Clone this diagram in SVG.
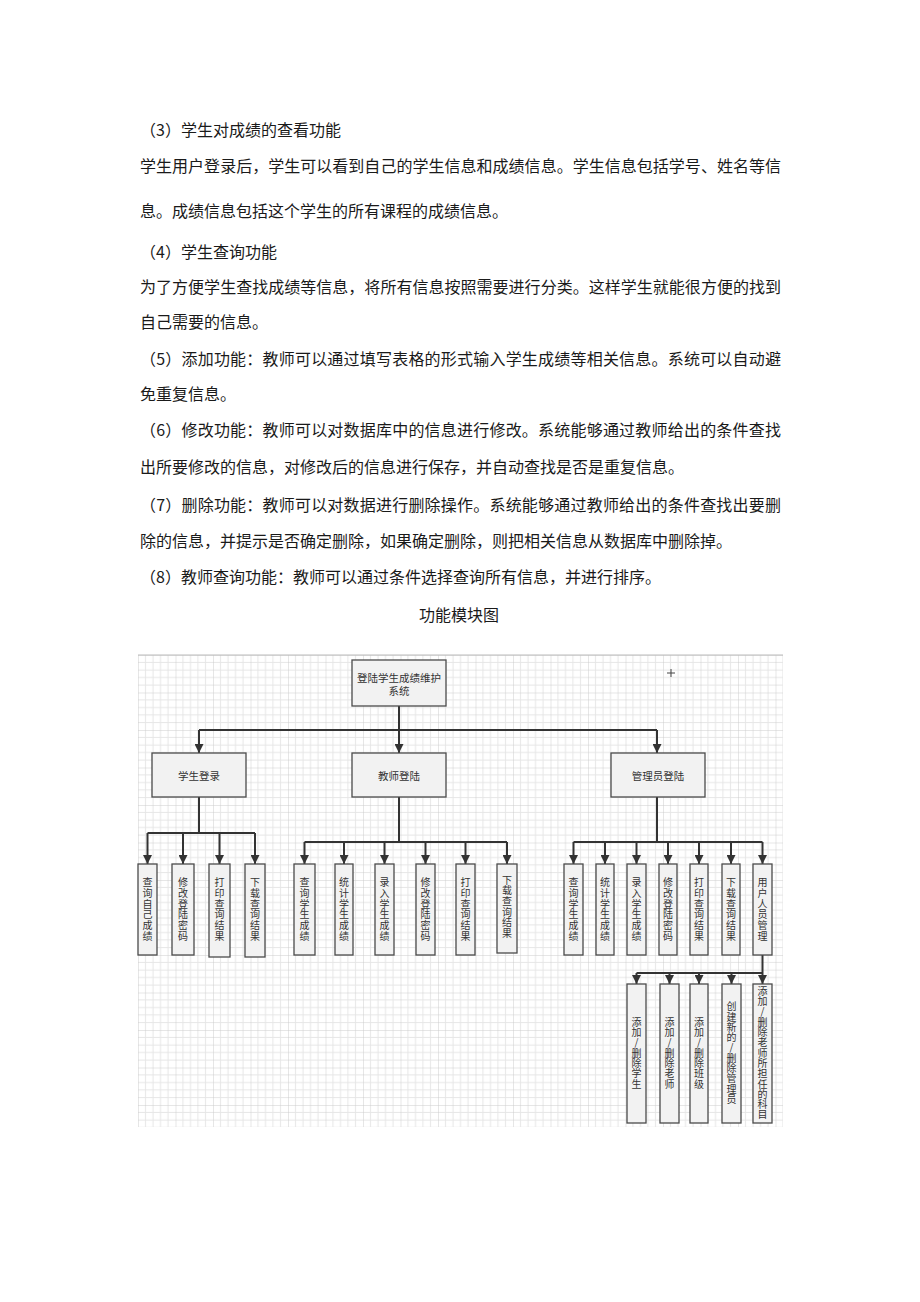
<svg xmlns="http://www.w3.org/2000/svg" width="920" height="1302" viewBox="0 0 920 1302">
<style>
.p{font-family:"Noto Sans CJK SC","Noto Sans",sans-serif;font-size:16px;fill:#1a1a1a}
.n{font-family:"Noto Sans CJK SC","Noto Sans",sans-serif;font-size:10.5px;fill:#333;text-anchor:middle;dominant-baseline:central}
.v{font-family:"Noto Sans CJK SC","Noto Sans",sans-serif;font-size:10px;fill:#333;text-anchor:middle;writing-mode:vertical-rl;text-orientation:upright;letter-spacing:0.7px}
.w{font-family:"Noto Sans CJK SC","Noto Sans",sans-serif;font-size:10px;fill:#333;text-anchor:middle;writing-mode:vertical-rl;text-orientation:upright;letter-spacing:0.3px}
.box{fill:#f2f2f2;stroke:#4a4a4a;stroke-width:1.3}
.c{fill:none;stroke:#333;stroke-width:2}
.ca{fill:none;stroke:#333;stroke-width:2;marker-end:url(#arr)}
</style>
<defs>
<marker id="arr" viewBox="0 0 10 10" refX="10" refY="5" markerUnits="userSpaceOnUse" markerWidth="9" markerHeight="9" orient="auto">
<path d="M0,0L10,5L0,10z" fill="#333"/>
</marker>
<pattern id="grid" x="138" y="655" width="37.5" height="37.5" patternUnits="userSpaceOnUse">
<path d="M7.5 0V37.5M15 0V37.5M22.5 0V37.5M30 0V37.5M0 7.5H37.5M0 15H37.5M0 22.5H37.5M0 30H37.5" stroke="#e6e6e6" stroke-width="1"/>
<path d="M0 0V37.5M0 0H37.5" stroke="#cdcdcd" stroke-width="1"/>
</pattern>
</defs>
<rect width="920" height="1302" fill="#fff"/>

<g id="text">
<text class="p" x="140" y="136">（3）学生对成绩的查看功能</text>
<text class="p" x="140" y="172" textLength="641" lengthAdjust="spacing">学生用户登录后，学生可以看到自己的学生信息和成绩信息。学生信息包括学号、姓名等信</text>
<text class="p" x="140" y="217">息。成绩信息包括这个学生的所有课程的成绩信息。</text>
<text class="p" x="140" y="258">（4）学生查询功能</text>
<text class="p" x="140" y="293" textLength="641" lengthAdjust="spacing">为了方便学生查找成绩等信息，将所有信息按照需要进行分类。这样学生就能很方便的找到</text>
<text class="p" x="140" y="328">自己需要的信息。</text>
<text class="p" x="140" y="365" textLength="641" lengthAdjust="spacing">（5）添加功能：教师可以通过填写表格的形式输入学生成绩等相关信息。系统可以自动避</text>
<text class="p" x="140" y="400">免重复信息。</text>
<text class="p" x="140" y="436" textLength="641" lengthAdjust="spacing">（6）修改功能：教师可以对数据库中的信息进行修改。系统能够通过教师给出的条件查找</text>
<text class="p" x="140" y="473">出所要修改的信息，对修改后的信息进行保存，并自动查找是否是重复信息。</text>
<text class="p" x="140" y="511" textLength="641" lengthAdjust="spacing">（7）删除功能：教师可以对数据进行删除操作。系统能够通过教师给出的条件查找出要删</text>
<text class="p" x="140" y="547">除的信息，并提示是否确定删除，如果确定删除，则把相关信息从数据库中删除掉。</text>
<text class="p" x="140" y="583">（8）教师查询功能：教师可以通过条件选择查询所有信息，并进行排序。</text>
<text class="p" x="459" y="621" text-anchor="middle">功能模块图</text>
</g>

<g id="canvas">
<rect x="138" y="655" width="645" height="472" fill="url(#grid)"/>
<path d="M138 655H783" stroke="#bbb" stroke-width="1"/>
<path d="M667 673H675M671 669V677" stroke="#444" stroke-width="1"/>
</g>

<g id="connectors">
<path class="ca" d="M399 706V753"/>
<path class="c" d="M199 730H657"/>
<path class="ca" d="M199 730V753"/>
<path class="ca" d="M657 730V753"/>

<path class="c" d="M199 797V833M147.5 833H255"/>
<path class="ca" d="M147.5 833V864"/>
<path class="ca" d="M183 833V864"/>
<path class="ca" d="M219.5 833V864"/>
<path class="ca" d="M255 833V864"/>

<path class="c" d="M399 797V842M304.5 842H507"/>
<path class="ca" d="M304.5 842V864"/>
<path class="ca" d="M344 842V864"/>
<path class="ca" d="M384.5 842V864"/>
<path class="ca" d="M425.5 842V864"/>
<path class="ca" d="M465.5 842V864"/>
<path class="ca" d="M507 842V864"/>

<path class="c" d="M657 797V842M573.5 842H762.5"/>
<path class="ca" d="M573.5 842V864"/>
<path class="ca" d="M605 842V864"/>
<path class="ca" d="M636.5 842V864"/>
<path class="ca" d="M668 842V864"/>
<path class="ca" d="M699 842V864"/>
<path class="ca" d="M731 842V864"/>
<path class="ca" d="M762.5 842V864"/>

<path class="c" d="M762.5 955V973M636.5 973H762.5"/>
<path class="ca" d="M636.5 973V984"/>
<path class="ca" d="M669.5 973V984"/>
<path class="ca" d="M699 973V984"/>
<path class="ca" d="M731.5 973V984"/>
<path class="ca" d="M762.5 973V984"/>
</g>

<g id="root">
<rect class="box" x="352" y="660" width="94" height="46"/>
<text class="n" x="399" y="677">登陆学生成绩维护</text>
<text class="n" x="399" y="690">系统</text>
</g>

<g id="student">
<rect class="box" x="152" y="753" width="94" height="44"/>
<text class="n" x="199" y="775">学生登录</text>
</g>
<g id="teacher">
<rect class="box" x="352" y="753" width="94" height="44"/>
<text class="n" x="399" y="775">教师登陆</text>
</g>
<g id="admin">
<rect class="box" x="611" y="753" width="94" height="44"/>
<text class="n" x="658" y="775">管理员登陆</text>
</g>

<g id="s1"><rect class="box" x="138" y="864" width="19" height="91"/><text class="v" x="147.5" y="909.5">查询自己成绩</text></g>
<g id="s2"><rect class="box" x="172" y="864" width="22" height="91"/><text class="v" x="183" y="909.5">修改登陆密码</text></g>
<g id="s3"><rect class="box" x="209" y="864" width="21" height="93"/><text class="v" x="219.5" y="909.5">打印查询结果</text></g>
<g id="s4"><rect class="box" x="245" y="864" width="20" height="93"/><text class="v" x="255" y="909.5">下载查询结果</text></g>

<g id="t1"><rect class="box" x="294" y="864" width="21" height="91"/><text class="v" x="304.5" y="909.5">查询学生成绩</text></g>
<g id="t2"><rect class="box" x="335" y="864" width="18" height="91"/><text class="v" x="344" y="909.5">统计学生成绩</text></g>
<g id="t3"><rect class="box" x="375" y="864" width="19" height="91"/><text class="v" x="384.5" y="909.5">录入学生成绩</text></g>
<g id="t4"><rect class="box" x="416" y="864" width="19" height="91"/><text class="v" x="425.5" y="909.5">修改登陆密码</text></g>
<g id="t5"><rect class="box" x="456" y="864" width="19" height="91"/><text class="v" x="465.5" y="909.5">打印查询结果</text></g>
<g id="t6"><rect class="box" x="497" y="864" width="20" height="89"/><text class="v" x="507" y="907">下载查询结果</text></g>

<g id="a1"><rect class="box" x="564" y="864" width="19" height="91"/><text class="v" x="573.5" y="909.5">查询学生成绩</text></g>
<g id="a2"><rect class="box" x="596" y="864" width="18" height="91"/><text class="v" x="605" y="909.5">统计学生成绩</text></g>
<g id="a3"><rect class="box" x="627" y="864" width="19" height="91"/><text class="v" x="636.5" y="909.5">录入学生成绩</text></g>
<g id="a4"><rect class="box" x="659" y="864" width="18" height="91"/><text class="v" x="668" y="909.5">修改登陆密码</text></g>
<g id="a5"><rect class="box" x="690" y="864" width="18" height="91"/><text class="v" x="699" y="909.5">打印查询结果</text></g>
<g id="a6"><rect class="box" x="722" y="864" width="18" height="91"/><text class="v" x="731" y="909.5">下载查询结果</text></g>
<g id="a7"><rect class="box" x="753" y="864" width="19" height="91"/><text class="v" x="762.5" y="909.5">用户人员管理</text></g>

<g id="b1"><rect class="box" x="627" y="984" width="19" height="139"/><text class="w" x="636.5" y="1053">添加/删除学生</text></g>
<g id="b2"><rect class="box" x="660" y="984" width="19" height="139"/><text class="w" x="669.5" y="1053">添加/删除老师</text></g>
<g id="b3"><rect class="box" x="690" y="984" width="18" height="139"/><text class="w" x="699" y="1053">添加/删除班级</text></g>
<g id="b4"><rect class="box" x="722" y="984" width="19" height="139"/><text class="w" x="731.5" y="1053">创建新的/删除管理员</text></g>
<g id="b5"><rect class="box" x="753" y="984" width="19" height="139"/><text class="w" x="762.5" y="1053">添加/删除老师所担任的科目</text></g>
</svg>
